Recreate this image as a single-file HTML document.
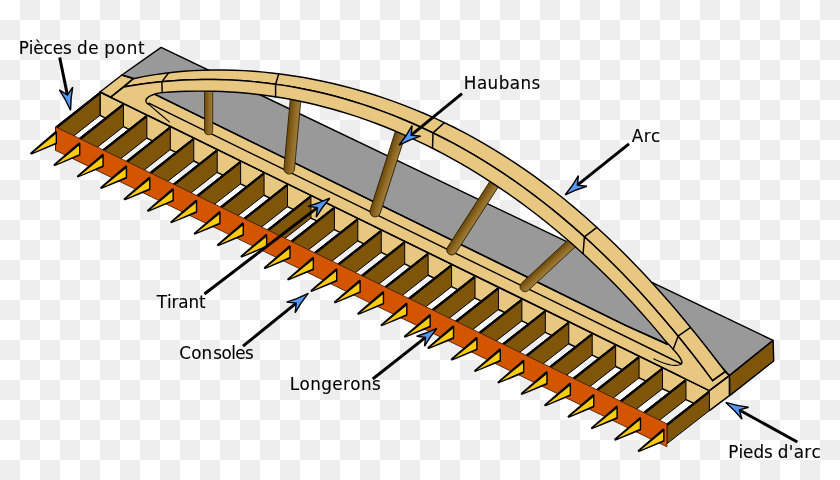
<!DOCTYPE html>
<html lang="fr"><head><meta charset="utf-8"><title>Pont bow-string</title>
<style>
html,body{margin:0;padding:0;}
body{width:840px;height:480px;overflow:hidden;background-color:#fff;
background-image:linear-gradient(45deg,#eee 25%,transparent 25%,transparent 75%,#eee 75%),linear-gradient(45deg,#eee 25%,transparent 25%,transparent 75%,#eee 75%);
background-size:40px 40px;background-position:0 0,20px 20px;}
svg{display:block;position:absolute;left:0;top:0;will-change:transform;}
text{font-family:"DejaVu Sans","Liberation Sans",sans-serif;font-size:16.8px;fill:#000;stroke:#000;stroke-width:0.12px;}
</style></head><body>
<svg width="840" height="480" viewBox="0 0 840 480">
<path d="M161.10,47.40 L773.10,340.40 L729.40,375.60 L700.00,364.86 L150.00,95.98 L121.90,75.00Z" fill="#999999" stroke="#000" stroke-width="1.45" stroke-linejoin="round" />
<path d="M729.40,375.60 L773.10,340.40 L773.70,361.00 L729.70,395.60Z" fill="#7f5509" stroke="#000" stroke-width="1.45" stroke-linejoin="round" />
<path d="M100.00,92.00 L121.90,75.00 L133.30,78.50 L155.00,94.40 L155.00,94.43 L625.00,325.06 L667.50,344.22 L690.00,330.00 L729.40,375.60 L729.40,395.60 L709.40,410.61 L685.96,399.62 L662.52,388.75 L639.08,377.86 L615.65,366.52 L592.21,355.18 L568.77,343.76 L545.33,332.34 L521.89,320.91 L498.45,309.49 L475.02,298.07 L451.58,286.65 L428.14,275.23 L404.70,263.80 L381.26,252.38 L357.82,240.96 L334.38,229.53 L310.95,218.11 L287.51,206.69 L264.07,195.26 L240.63,183.84 L217.19,172.42 L193.75,160.99 L170.32,149.57 L146.88,138.15 L123.44,126.72 L100.00,115.30Z" fill="#e8c881" stroke="#000" stroke-width="1.45" stroke-linejoin="round" />
<path d="M155.00,94.43 L625.00,325.06 L667.50,344.22" fill="none" stroke="#000" stroke-width="1.45" stroke-linecap="round" stroke-linejoin="round"/>
<path d="M148.75,103.21 L680.60,363.49" fill="none" stroke="#000" stroke-width="1.45" stroke-linecap="round" stroke-linejoin="round"/>
<path d="M100.00,92.00 L709.40,390.61 L729.40,375.60" fill="none" stroke="#000" stroke-width="1.45" stroke-linecap="round" stroke-linejoin="round"/>
<defs><linearGradient id="hg" x1="0" y1="0" x2="1" y2="0"><stop offset="0" stop-color="#6a4808"/><stop offset="0.55" stop-color="#8f6a25"/><stop offset="1" stop-color="#a07c38"/></linearGradient></defs>
<g transform="translate(208.60,92.50) rotate(0.00)"><path d="M-4.10,-8 L-4.10,38.20 A4.10,4.10 0 0 0 4.10,38.20 L4.10,-8 Z" fill="url(#hg)" stroke="#2a1c00" stroke-width="0.8"/></g>
<g transform="translate(295.50,100.60) rotate(5.28)"><path d="M-5.30,-8 L-5.30,68.49 A5.30,5.30 0 0 0 5.30,68.49 L5.30,-8 Z" fill="url(#hg)" stroke="#2a1c00" stroke-width="0.8"/></g>
<g transform="translate(400.00,134.20) rotate(17.77)"><path d="M-5.30,-8 L-5.30,81.28 A5.30,5.30 0 0 0 5.30,81.28 L5.30,-8 Z" fill="url(#hg)" stroke="#2a1c00" stroke-width="0.8"/></g>
<g transform="translate(493.50,185.00) rotate(32.74)"><path d="M-5.00,-8 L-5.00,77.28 A5.00,5.00 0 0 0 5.00,77.28 L5.00,-8 Z" fill="url(#hg)" stroke="#2a1c00" stroke-width="0.8"/></g>
<g transform="translate(571.00,244.00) rotate(47.13)"><path d="M-5.00,-8 L-5.00,62.76 A5.00,5.00 0 0 0 5.00,62.76 L5.00,-8 Z" fill="url(#hg)" stroke="#2a1c00" stroke-width="0.8"/></g>
<path d="M133.30,78.68 L143.33,76.64 L153.36,74.90 L163.40,73.43 L173.43,72.24 L183.46,71.31 L193.49,70.62 L203.53,70.18 L213.56,69.96 L223.59,69.97 L233.62,70.20 L243.65,70.64 L253.69,71.29 L263.72,72.14 L273.75,73.20 L283.78,74.46 L293.82,75.92 L303.85,77.57 L313.88,79.43 L323.91,81.48 L333.94,83.74 L343.98,86.19 L354.01,88.85 L364.04,91.72 L374.07,94.80 L384.11,98.10 L394.14,101.61 L404.17,105.34 L414.20,109.30 L424.23,113.50 L434.27,117.92 L444.30,122.60 L454.33,127.51 L464.36,132.69 L474.39,138.12 L484.43,143.81 L494.46,149.77 L504.49,156.01 L514.52,162.53 L524.56,169.34 L534.59,176.43 L544.62,183.83 L554.65,191.52 L564.68,199.53 L574.72,207.84 L584.75,216.47 L594.78,225.42 L604.81,234.69 L614.85,244.28 L624.88,254.20 L634.91,264.46 L644.94,275.04 L654.97,285.96 L665.01,297.21 L675.04,308.80 L685.07,320.71 L695.10,332.96 L705.14,345.53 L715.17,358.44 L725.20,371.66 L712.50,380.65 L702.52,367.28 L692.55,354.30 L682.57,341.71 L672.59,329.49 L662.62,317.65 L652.64,306.16 L642.67,295.04 L632.69,284.26 L622.71,273.83 L612.74,263.73 L602.76,253.97 L592.78,244.52 L582.81,235.40 L572.83,226.59 L562.86,218.08 L552.88,209.88 L542.90,201.97 L532.93,194.34 L522.95,187.01 L512.97,179.95 L503.00,173.17 L493.02,166.66 L483.05,160.41 L473.07,154.42 L463.09,148.69 L453.12,143.21 L443.14,137.98 L433.16,132.99 L423.19,128.24 L413.21,123.73 L403.24,119.46 L393.26,115.41 L383.28,111.59 L373.31,107.99 L363.33,104.62 L353.35,101.47 L343.38,98.53 L333.40,95.81 L323.43,93.30 L313.45,91.01 L303.47,88.92 L293.50,87.05 L283.52,85.38 L273.54,83.92 L263.57,82.66 L253.59,81.61 L243.62,80.77 L233.64,80.14 L223.66,79.71 L213.69,79.48 L203.71,79.47 L193.73,79.66 L183.76,80.06 L173.78,80.67 L163.81,81.50 L153.83,82.54 L143.85,83.80 L133.88,85.27 L123.90,86.97Z" fill="#e8c881" stroke="#000" stroke-width="1.45" stroke-linejoin="round" />
<path d="M110.60,97.19 L123.90,86.97 L133.88,85.27 L143.85,83.80 L153.83,82.54 L163.81,81.50 L173.78,80.67 L183.76,80.06 L193.73,79.66 L203.71,79.47 L213.69,79.48 L223.66,79.71 L233.64,80.14 L243.62,80.77 L253.59,81.61 L263.57,82.66 L273.54,83.92 L283.52,85.38 L293.50,87.05 L303.47,88.92 L313.45,91.01 L323.43,93.30 L333.40,95.81 L343.38,98.53 L353.35,101.47 L363.33,104.62 L373.31,107.99 L383.28,111.59 L393.26,115.41 L403.24,119.46 L413.21,123.73 L423.19,128.24 L433.16,132.99 L443.14,137.98 L453.12,143.21 L463.09,148.69 L473.07,154.42 L483.05,160.41 L493.02,166.66 L503.00,173.17 L512.97,179.95 L522.95,187.01 L532.93,194.34 L542.90,201.97 L552.88,209.88 L562.86,218.08 L572.83,226.59 L582.81,235.40 L592.78,244.52 L602.76,253.97 L612.74,263.73 L622.71,273.83 L632.69,284.26 L642.67,295.04 L652.64,306.16 L662.62,317.65 L672.59,329.49 L682.57,341.71 L692.55,354.30 L702.52,367.28 L712.50,380.65 L709.40,390.61 L680.80,376.59 L680.80,364.20 L680.80,364.20 L681.03,364.06 L681.23,363.91 L681.40,363.75 L681.55,363.59 L681.67,363.41 L681.77,363.23 L681.85,363.04 L681.90,362.83 L681.92,362.62 L681.93,362.39 L681.91,362.14 L681.86,361.88 L681.80,361.60 L681.71,361.31 L681.60,361.00 L681.20,359.96 L680.64,358.85 L679.94,357.68 L679.11,356.45 L678.18,355.17 L677.15,353.86 L676.03,352.51 L674.85,351.14 L673.62,349.76 L672.36,348.37 L671.07,346.98 L669.77,345.60 L668.49,344.24 L667.22,342.91 L666.00,341.62 L666.00,341.62 L657.46,331.36 L648.92,321.40 L640.37,311.72 L631.83,302.33 L623.29,293.21 L614.75,284.36 L606.20,275.76 L597.66,267.42 L589.12,259.32 L580.58,251.46 L572.03,243.83 L563.49,236.43 L554.95,229.25 L546.41,222.28 L537.86,215.53 L529.32,208.99 L520.78,202.65 L512.24,196.51 L503.69,190.57 L495.15,184.82 L486.61,179.27 L478.07,173.90 L469.53,168.71 L460.98,163.70 L452.44,158.88 L443.90,154.23 L435.36,149.76 L426.81,145.47 L418.27,141.34 L409.73,137.39 L401.19,133.60 L392.64,129.98 L384.10,126.53 L375.56,123.25 L367.02,120.13 L358.47,117.17 L349.93,114.38 L341.39,111.75 L332.85,109.28 L324.31,106.97 L315.76,104.82 L307.22,102.83 L298.68,101.00 L290.14,99.32 L281.59,97.81 L273.05,96.45 L264.51,95.24 L255.97,94.20 L247.42,93.30 L238.88,92.56 L230.34,91.97 L221.80,91.53 L213.25,91.25 L204.71,91.11 L196.17,91.12 L187.63,91.27 L179.08,91.57 L170.54,92.02 L162.00,92.60 L162.00,92.60 L160.22,92.84 L158.48,93.15 L156.80,93.52 L155.20,93.96 L153.67,94.45 L152.25,94.98 L150.94,95.56 L149.75,96.17 L148.69,96.82 L147.79,97.49 L147.05,98.18 L146.49,98.88 L146.12,99.59 L145.95,100.30 L146.00,101.00 L146.09,101.35 L146.19,101.68 L146.30,101.99 L146.43,102.28 L146.57,102.55 L146.72,102.80 L146.89,103.04 L147.07,103.26 L147.27,103.46 L147.48,103.65 L147.71,103.83 L147.95,103.99 L148.20,104.14 L148.47,104.27 L148.75,104.40 L148.75,115.89Z" fill="#e8c881" stroke="none"/>
<path d="M110.60,97.19 L123.90,86.97 L123.90,86.97 L133.88,85.27 L143.85,83.80 L153.83,82.54 L163.81,81.50 L173.78,80.67 L183.76,80.06 L193.73,79.66 L203.71,79.47 L213.69,79.48 L223.66,79.71 L233.64,80.14 L243.62,80.77 L253.59,81.61 L263.57,82.66 L273.54,83.92 L283.52,85.38 L293.50,87.05 L303.47,88.92 L313.45,91.01 L323.43,93.30 L333.40,95.81 L343.38,98.53 L353.35,101.47 L363.33,104.62 L373.31,107.99 L383.28,111.59 L393.26,115.41 L403.24,119.46 L413.21,123.73 L423.19,128.24 L433.16,132.99 L443.14,137.98 L453.12,143.21 L463.09,148.69 L473.07,154.42 L483.05,160.41 L493.02,166.66 L503.00,173.17 L512.97,179.95 L522.95,187.01 L532.93,194.34 L542.90,201.97 L552.88,209.88 L562.86,218.08 L572.83,226.59 L582.81,235.40 L592.78,244.52 L602.76,253.97 L612.74,263.73 L622.71,273.83 L632.69,284.26 L642.67,295.04 L652.64,306.16 L662.62,317.65 L672.59,329.49 L682.57,341.71 L692.55,354.30 L702.52,367.28 L712.50,380.65" fill="none" stroke="#000" stroke-width="1.45" stroke-linecap="round" stroke-linejoin="round"/>
<path d="M100.00,92.00 L709.40,390.61 L729.40,375.60" fill="none" stroke="#000" stroke-width="1.45" stroke-linecap="round" stroke-linejoin="round"/>
<path d="M680.80,364.20 L681.03,364.06 L681.23,363.91 L681.40,363.75 L681.55,363.59 L681.67,363.41 L681.77,363.23 L681.85,363.04 L681.90,362.83 L681.92,362.62 L681.93,362.39 L681.91,362.14 L681.86,361.88 L681.80,361.60 L681.71,361.31 L681.60,361.00 L681.20,359.96 L680.64,358.85 L679.94,357.68 L679.11,356.45 L678.18,355.17 L677.15,353.86 L676.03,352.51 L674.85,351.14 L673.62,349.76 L672.36,348.37 L671.07,346.98 L669.77,345.60 L668.49,344.24 L667.22,342.91 L666.00,341.62 L666.00,341.62 L657.46,331.36 L648.92,321.40 L640.37,311.72 L631.83,302.33 L623.29,293.21 L614.75,284.36 L606.20,275.76 L597.66,267.42 L589.12,259.32 L580.58,251.46 L572.03,243.83 L563.49,236.43 L554.95,229.25 L546.41,222.28 L537.86,215.53 L529.32,208.99 L520.78,202.65 L512.24,196.51 L503.69,190.57 L495.15,184.82 L486.61,179.27 L478.07,173.90 L469.53,168.71 L460.98,163.70 L452.44,158.88 L443.90,154.23 L435.36,149.76 L426.81,145.47 L418.27,141.34 L409.73,137.39 L401.19,133.60 L392.64,129.98 L384.10,126.53 L375.56,123.25 L367.02,120.13 L358.47,117.17 L349.93,114.38 L341.39,111.75 L332.85,109.28 L324.31,106.97 L315.76,104.82 L307.22,102.83 L298.68,101.00 L290.14,99.32 L281.59,97.81 L273.05,96.45 L264.51,95.24 L255.97,94.20 L247.42,93.30 L238.88,92.56 L230.34,91.97 L221.80,91.53 L213.25,91.25 L204.71,91.11 L196.17,91.12 L187.63,91.27 L179.08,91.57 L170.54,92.02 L162.00,92.60 L162.00,92.60 L160.22,92.84 L158.48,93.15 L156.80,93.52 L155.20,93.96 L153.67,94.45 L152.25,94.98 L150.94,95.56 L149.75,96.17 L148.69,96.82 L147.79,97.49 L147.05,98.18 L146.49,98.88 L146.12,99.59 L145.95,100.30 L146.00,101.00 L146.09,101.35 L146.19,101.68 L146.30,101.99 L146.43,102.28 L146.57,102.55 L146.72,102.80 L146.89,103.04 L147.07,103.26 L147.27,103.46 L147.48,103.65 L147.71,103.83 L147.95,103.99 L148.20,104.14 L148.47,104.27 L148.75,104.40" fill="none" stroke="#000" stroke-width="1.45" stroke-linecap="round" stroke-linejoin="round"/>
<path d="M110.60,97.19 L133.30,78.50" fill="none" stroke="#000" stroke-width="1.45" stroke-linecap="round" stroke-linejoin="round"/>
<path d="M121.90,75.00 L133.30,78.50" fill="none" stroke="#000" stroke-width="1.45" stroke-linecap="round" stroke-linejoin="round"/>
<path d="M712.50,380.65 L725.20,371.66" fill="none" stroke="#000" stroke-width="1.45" stroke-linecap="round" stroke-linejoin="round"/>
<path d="M725.20,371.66 L729.40,375.60" fill="none" stroke="#000" stroke-width="1.45" stroke-linecap="round" stroke-linejoin="round"/>
<path d="M148.75,104.40 L160.00,114.00 L169.40,121.90" fill="none" stroke="#000" stroke-width="1.1" stroke-linecap="round" stroke-linejoin="round"/>
<path d="M680.80,364.20 L679.77,364.66 L678.61,365.01 L677.32,365.23 L675.91,365.34 L674.38,365.33 L672.73,365.20 L670.98,364.96 L669.13,364.60 L667.18,364.12 L665.14,363.52 L663.01,362.80 L660.81,361.97 L658.52,361.01 L656.17,359.94 L653.75,358.75" fill="none" stroke="#000" stroke-width="1.1" stroke-linecap="round" stroke-linejoin="round"/>
<path d="M168.75,72.77 L161.90,81.68 L162.20,92.59" fill="none" stroke="#000" stroke-width="1.45" stroke-linecap="round" stroke-linejoin="round"/>
<path d="M278.75,73.80 L275.60,84.20 L275.60,96.84" fill="none" stroke="#000" stroke-width="1.45" stroke-linecap="round" stroke-linejoin="round"/>
<path d="M444.40,122.64 L433.00,132.91 L432.50,148.31" fill="none" stroke="#000" stroke-width="1.45" stroke-linecap="round" stroke-linejoin="round"/>
<path d="M596.90,227.35 L584.40,236.83 L583.10,253.76" fill="none" stroke="#000" stroke-width="1.45" stroke-linecap="round" stroke-linejoin="round"/>
<path d="M690.60,327.42 L678.10,336.19 L673.10,349.40" fill="none" stroke="#000" stroke-width="1.45" stroke-linecap="round" stroke-linejoin="round"/>
<path d="M100.00,92.00 L55.60,126.90 L55.60,150.20 L100.00,115.30Z" fill="#7f5509" stroke="#000" stroke-width="1.0" stroke-linejoin="round" />
<path d="M99.60,93.30 L55.90,128.10" fill="none" stroke="#000" stroke-width="2.2" stroke-linecap="butt" stroke-linejoin="round"/>
<path d="M123.44,103.48 L79.11,138.32 L79.11,161.56 L123.44,126.72Z" fill="#7f5509" stroke="#000" stroke-width="1.0" stroke-linejoin="round" />
<path d="M123.04,104.78 L79.41,139.52" fill="none" stroke="#000" stroke-width="2.2" stroke-linecap="butt" stroke-linejoin="round"/>
<path d="M146.88,114.97 L102.62,149.73 L102.62,172.91 L146.88,138.15Z" fill="#7f5509" stroke="#000" stroke-width="1.0" stroke-linejoin="round" />
<path d="M146.48,116.27 L102.92,150.93" fill="none" stroke="#000" stroke-width="2.2" stroke-linecap="butt" stroke-linejoin="round"/>
<path d="M170.32,126.45 L126.13,161.15 L126.13,184.27 L170.32,149.57Z" fill="#7f5509" stroke="#000" stroke-width="1.0" stroke-linejoin="round" />
<path d="M169.92,127.75 L126.43,162.35" fill="none" stroke="#000" stroke-width="2.2" stroke-linecap="butt" stroke-linejoin="round"/>
<path d="M193.75,137.94 L149.65,172.57 L149.65,195.62 L193.75,160.99Z" fill="#7f5509" stroke="#000" stroke-width="1.0" stroke-linejoin="round" />
<path d="M193.35,139.24 L149.95,173.77" fill="none" stroke="#000" stroke-width="2.2" stroke-linecap="butt" stroke-linejoin="round"/>
<path d="M217.19,149.42 L173.16,183.99 L173.16,206.98 L217.19,172.42Z" fill="#7f5509" stroke="#000" stroke-width="1.0" stroke-linejoin="round" />
<path d="M216.79,150.72 L173.46,185.19" fill="none" stroke="#000" stroke-width="2.2" stroke-linecap="butt" stroke-linejoin="round"/>
<path d="M240.63,160.91 L196.67,195.40 L196.67,218.33 L240.63,183.84Z" fill="#7f5509" stroke="#000" stroke-width="1.0" stroke-linejoin="round" />
<path d="M240.23,162.21 L196.97,196.60" fill="none" stroke="#000" stroke-width="2.2" stroke-linecap="butt" stroke-linejoin="round"/>
<path d="M264.07,172.39 L220.18,206.82 L220.18,229.69 L264.07,195.26Z" fill="#7f5509" stroke="#000" stroke-width="1.0" stroke-linejoin="round" />
<path d="M263.67,173.69 L220.48,208.02" fill="none" stroke="#000" stroke-width="2.2" stroke-linecap="butt" stroke-linejoin="round"/>
<path d="M287.51,183.88 L243.69,218.24 L243.69,241.05 L287.51,206.69Z" fill="#7f5509" stroke="#000" stroke-width="1.0" stroke-linejoin="round" />
<path d="M287.11,185.18 L243.99,219.44" fill="none" stroke="#000" stroke-width="2.2" stroke-linecap="butt" stroke-linejoin="round"/>
<path d="M310.95,195.36 L267.20,229.66 L267.20,252.40 L310.95,218.11Z" fill="#7f5509" stroke="#000" stroke-width="1.0" stroke-linejoin="round" />
<path d="M310.55,196.66 L267.50,230.86" fill="none" stroke="#000" stroke-width="2.2" stroke-linecap="butt" stroke-linejoin="round"/>
<path d="M334.38,206.85 L290.72,241.07 L290.72,263.76 L334.38,229.53Z" fill="#7f5509" stroke="#000" stroke-width="1.0" stroke-linejoin="round" />
<path d="M333.98,208.15 L291.02,242.27" fill="none" stroke="#000" stroke-width="2.2" stroke-linecap="butt" stroke-linejoin="round"/>
<path d="M357.82,218.33 L314.23,252.49 L314.23,275.11 L357.82,240.96Z" fill="#7f5509" stroke="#000" stroke-width="1.0" stroke-linejoin="round" />
<path d="M357.42,219.63 L314.53,253.69" fill="none" stroke="#000" stroke-width="2.2" stroke-linecap="butt" stroke-linejoin="round"/>
<path d="M381.26,229.82 L337.74,263.91 L337.74,286.47 L381.26,252.38Z" fill="#7f5509" stroke="#000" stroke-width="1.0" stroke-linejoin="round" />
<path d="M380.86,231.12 L338.04,265.11" fill="none" stroke="#000" stroke-width="2.2" stroke-linecap="butt" stroke-linejoin="round"/>
<path d="M404.70,241.30 L361.25,275.33 L361.25,297.83 L404.70,263.80Z" fill="#7f5509" stroke="#000" stroke-width="1.0" stroke-linejoin="round" />
<path d="M404.30,242.60 L361.55,276.53" fill="none" stroke="#000" stroke-width="2.2" stroke-linecap="butt" stroke-linejoin="round"/>
<path d="M428.14,252.79 L384.76,286.74 L384.76,309.18 L428.14,275.23Z" fill="#7f5509" stroke="#000" stroke-width="1.0" stroke-linejoin="round" />
<path d="M427.74,254.09 L385.06,287.94" fill="none" stroke="#000" stroke-width="2.2" stroke-linecap="butt" stroke-linejoin="round"/>
<path d="M451.58,264.27 L408.27,298.16 L408.27,320.54 L451.58,286.65Z" fill="#7f5509" stroke="#000" stroke-width="1.0" stroke-linejoin="round" />
<path d="M451.18,265.57 L408.57,299.36" fill="none" stroke="#000" stroke-width="2.2" stroke-linecap="butt" stroke-linejoin="round"/>
<path d="M475.02,275.76 L431.78,309.58 L431.78,331.89 L475.02,298.07Z" fill="#7f5509" stroke="#000" stroke-width="1.0" stroke-linejoin="round" />
<path d="M474.62,277.06 L432.08,310.78" fill="none" stroke="#000" stroke-width="2.2" stroke-linecap="butt" stroke-linejoin="round"/>
<path d="M498.45,287.24 L455.30,320.99 L455.30,343.24 L498.45,309.49Z" fill="#7f5509" stroke="#000" stroke-width="1.0" stroke-linejoin="round" />
<path d="M498.05,288.54 L455.60,322.19" fill="none" stroke="#000" stroke-width="2.2" stroke-linecap="butt" stroke-linejoin="round"/>
<path d="M521.89,298.73 L478.81,332.41 L478.81,354.60 L521.89,320.91Z" fill="#7f5509" stroke="#000" stroke-width="1.0" stroke-linejoin="round" />
<path d="M521.49,300.03 L479.11,333.61" fill="none" stroke="#000" stroke-width="2.2" stroke-linecap="butt" stroke-linejoin="round"/>
<path d="M545.33,310.21 L502.32,343.83 L502.32,365.95 L545.33,332.34Z" fill="#7f5509" stroke="#000" stroke-width="1.0" stroke-linejoin="round" />
<path d="M544.93,311.51 L502.62,345.03" fill="none" stroke="#000" stroke-width="2.2" stroke-linecap="butt" stroke-linejoin="round"/>
<path d="M568.77,321.70 L525.83,355.25 L525.83,377.31 L568.77,343.76Z" fill="#7f5509" stroke="#000" stroke-width="1.0" stroke-linejoin="round" />
<path d="M568.37,323.00 L526.13,356.45" fill="none" stroke="#000" stroke-width="2.2" stroke-linecap="butt" stroke-linejoin="round"/>
<path d="M592.21,333.18 L549.34,366.66 L549.34,388.66 L592.21,355.18Z" fill="#7f5509" stroke="#000" stroke-width="1.0" stroke-linejoin="round" />
<path d="M591.81,334.48 L549.64,367.86" fill="none" stroke="#000" stroke-width="2.2" stroke-linecap="butt" stroke-linejoin="round"/>
<path d="M615.65,344.67 L572.85,378.08 L572.85,399.93 L615.65,366.52Z" fill="#7f5509" stroke="#000" stroke-width="1.0" stroke-linejoin="round" />
<path d="M615.25,345.97 L573.15,379.28" fill="none" stroke="#000" stroke-width="2.2" stroke-linecap="butt" stroke-linejoin="round"/>
<path d="M639.08,356.15 L596.37,389.50 L596.37,411.20 L639.08,377.86Z" fill="#7f5509" stroke="#000" stroke-width="1.0" stroke-linejoin="round" />
<path d="M638.68,357.45 L596.67,390.70" fill="none" stroke="#000" stroke-width="2.2" stroke-linecap="butt" stroke-linejoin="round"/>
<path d="M662.52,367.64 L619.88,400.92 L619.88,422.03 L662.52,388.75Z" fill="#7f5509" stroke="#000" stroke-width="1.0" stroke-linejoin="round" />
<path d="M662.12,368.94 L620.18,402.12" fill="none" stroke="#000" stroke-width="2.2" stroke-linecap="butt" stroke-linejoin="round"/>
<path d="M685.96,379.12 L643.39,412.33 L643.39,432.83 L685.96,399.62Z" fill="#7f5509" stroke="#000" stroke-width="1.0" stroke-linejoin="round" />
<path d="M685.56,380.42 L643.69,413.53" fill="none" stroke="#000" stroke-width="2.2" stroke-linecap="butt" stroke-linejoin="round"/>
<path d="M709.40,390.61 L666.90,423.75 L666.90,443.75 L709.40,410.61Z" fill="#7f5509" stroke="#000" stroke-width="1.0" stroke-linejoin="round" />
<path d="M709.00,391.91 L667.20,424.95" fill="none" stroke="#000" stroke-width="2.2" stroke-linecap="butt" stroke-linejoin="round"/>
<path d="M55.60,126.90 L666.90,423.75 L666.90,446.75 L55.60,150.40Z" fill="#d45500" stroke="#3a1500" stroke-width="0.8" stroke-linejoin="round" />
<path d="M55.90,132.20 L55.90,143.30 L31.30,153.40Z" fill="#000" stroke="#000" stroke-width="2.3" stroke-linejoin="round" />
<path d="M55.60,134.30 L55.60,142.70 L33.30,152.50Z" fill="#ffcc0d" stroke="none" stroke-width="0" stroke-linejoin="round" />
<path d="M79.27,143.64 L79.27,154.74 L54.67,164.84Z" fill="#000" stroke="#000" stroke-width="2.3" stroke-linejoin="round" />
<path d="M78.97,145.74 L78.97,154.14 L56.67,163.94Z" fill="#ffcc0d" stroke="none" stroke-width="0" stroke-linejoin="round" />
<path d="M102.63,155.08 L102.63,166.18 L78.03,176.28Z" fill="#000" stroke="#000" stroke-width="2.3" stroke-linejoin="round" />
<path d="M102.33,157.18 L102.33,165.58 L80.03,175.38Z" fill="#ffcc0d" stroke="none" stroke-width="0" stroke-linejoin="round" />
<path d="M126.00,166.53 L126.00,177.63 L101.40,187.73Z" fill="#000" stroke="#000" stroke-width="2.3" stroke-linejoin="round" />
<path d="M125.70,168.63 L125.70,177.03 L103.40,186.83Z" fill="#ffcc0d" stroke="none" stroke-width="0" stroke-linejoin="round" />
<path d="M149.36,177.97 L149.36,189.07 L124.76,199.17Z" fill="#000" stroke="#000" stroke-width="2.3" stroke-linejoin="round" />
<path d="M149.06,180.07 L149.06,188.47 L126.76,198.27Z" fill="#ffcc0d" stroke="none" stroke-width="0" stroke-linejoin="round" />
<path d="M172.73,189.41 L172.73,200.51 L148.13,210.61Z" fill="#000" stroke="#000" stroke-width="2.3" stroke-linejoin="round" />
<path d="M172.43,191.51 L172.43,199.91 L150.13,209.71Z" fill="#ffcc0d" stroke="none" stroke-width="0" stroke-linejoin="round" />
<path d="M196.09,200.85 L196.09,211.95 L171.49,222.05Z" fill="#000" stroke="#000" stroke-width="2.3" stroke-linejoin="round" />
<path d="M195.79,202.95 L195.79,211.35 L173.49,221.15Z" fill="#ffcc0d" stroke="none" stroke-width="0" stroke-linejoin="round" />
<path d="M219.46,212.30 L219.46,223.40 L194.86,233.50Z" fill="#000" stroke="#000" stroke-width="2.3" stroke-linejoin="round" />
<path d="M219.16,214.40 L219.16,222.80 L196.86,232.60Z" fill="#ffcc0d" stroke="none" stroke-width="0" stroke-linejoin="round" />
<path d="M242.82,223.74 L242.82,234.84 L218.22,244.94Z" fill="#000" stroke="#000" stroke-width="2.3" stroke-linejoin="round" />
<path d="M242.52,225.84 L242.52,234.24 L220.22,244.04Z" fill="#ffcc0d" stroke="none" stroke-width="0" stroke-linejoin="round" />
<path d="M266.19,235.18 L266.19,246.28 L241.59,256.38Z" fill="#000" stroke="#000" stroke-width="2.3" stroke-linejoin="round" />
<path d="M265.89,237.28 L265.89,245.68 L243.59,255.48Z" fill="#ffcc0d" stroke="none" stroke-width="0" stroke-linejoin="round" />
<path d="M289.55,246.62 L289.55,257.72 L264.95,267.82Z" fill="#000" stroke="#000" stroke-width="2.3" stroke-linejoin="round" />
<path d="M289.25,248.72 L289.25,257.12 L266.95,266.92Z" fill="#ffcc0d" stroke="none" stroke-width="0" stroke-linejoin="round" />
<path d="M312.92,258.07 L312.92,269.17 L288.32,279.27Z" fill="#000" stroke="#000" stroke-width="2.3" stroke-linejoin="round" />
<path d="M312.62,260.17 L312.62,268.57 L290.32,278.37Z" fill="#ffcc0d" stroke="none" stroke-width="0" stroke-linejoin="round" />
<path d="M336.28,269.51 L336.28,280.61 L311.68,290.71Z" fill="#000" stroke="#000" stroke-width="2.3" stroke-linejoin="round" />
<path d="M335.98,271.61 L335.98,280.01 L313.68,289.81Z" fill="#ffcc0d" stroke="none" stroke-width="0" stroke-linejoin="round" />
<path d="M359.65,280.95 L359.65,292.05 L335.05,302.15Z" fill="#000" stroke="#000" stroke-width="2.3" stroke-linejoin="round" />
<path d="M359.35,283.05 L359.35,291.45 L337.05,301.25Z" fill="#ffcc0d" stroke="none" stroke-width="0" stroke-linejoin="round" />
<path d="M383.02,292.39 L383.02,303.49 L358.42,313.59Z" fill="#000" stroke="#000" stroke-width="2.3" stroke-linejoin="round" />
<path d="M382.72,294.49 L382.72,302.89 L360.42,312.69Z" fill="#ffcc0d" stroke="none" stroke-width="0" stroke-linejoin="round" />
<path d="M406.38,303.83 L406.38,314.93 L381.78,325.03Z" fill="#000" stroke="#000" stroke-width="2.3" stroke-linejoin="round" />
<path d="M406.08,305.93 L406.08,314.33 L383.78,324.13Z" fill="#ffcc0d" stroke="none" stroke-width="0" stroke-linejoin="round" />
<path d="M429.75,315.28 L429.75,326.38 L405.15,336.48Z" fill="#000" stroke="#000" stroke-width="2.3" stroke-linejoin="round" />
<path d="M429.45,317.38 L429.45,325.78 L407.15,335.58Z" fill="#ffcc0d" stroke="none" stroke-width="0" stroke-linejoin="round" />
<path d="M453.11,326.72 L453.11,337.82 L428.51,347.92Z" fill="#000" stroke="#000" stroke-width="2.3" stroke-linejoin="round" />
<path d="M452.81,328.82 L452.81,337.22 L430.51,347.02Z" fill="#ffcc0d" stroke="none" stroke-width="0" stroke-linejoin="round" />
<path d="M476.48,338.16 L476.48,349.26 L451.88,359.36Z" fill="#000" stroke="#000" stroke-width="2.3" stroke-linejoin="round" />
<path d="M476.18,340.26 L476.18,348.66 L453.88,358.46Z" fill="#ffcc0d" stroke="none" stroke-width="0" stroke-linejoin="round" />
<path d="M499.84,349.60 L499.84,360.70 L475.24,370.80Z" fill="#000" stroke="#000" stroke-width="2.3" stroke-linejoin="round" />
<path d="M499.54,351.70 L499.54,360.10 L477.24,369.90Z" fill="#ffcc0d" stroke="none" stroke-width="0" stroke-linejoin="round" />
<path d="M523.21,361.05 L523.21,372.15 L498.61,382.25Z" fill="#000" stroke="#000" stroke-width="2.3" stroke-linejoin="round" />
<path d="M522.91,363.15 L522.91,371.55 L500.61,381.35Z" fill="#ffcc0d" stroke="none" stroke-width="0" stroke-linejoin="round" />
<path d="M546.57,372.49 L546.57,383.59 L521.97,393.69Z" fill="#000" stroke="#000" stroke-width="2.3" stroke-linejoin="round" />
<path d="M546.27,374.59 L546.27,382.99 L523.97,392.79Z" fill="#ffcc0d" stroke="none" stroke-width="0" stroke-linejoin="round" />
<path d="M569.94,383.93 L569.94,395.03 L545.34,405.13Z" fill="#000" stroke="#000" stroke-width="2.3" stroke-linejoin="round" />
<path d="M569.64,386.03 L569.64,394.43 L547.34,404.23Z" fill="#ffcc0d" stroke="none" stroke-width="0" stroke-linejoin="round" />
<path d="M593.30,395.37 L593.30,406.47 L568.70,416.57Z" fill="#000" stroke="#000" stroke-width="2.3" stroke-linejoin="round" />
<path d="M593.00,397.47 L593.00,405.87 L570.70,415.67Z" fill="#ffcc0d" stroke="none" stroke-width="0" stroke-linejoin="round" />
<path d="M616.67,406.82 L616.67,417.92 L592.07,428.02Z" fill="#000" stroke="#000" stroke-width="2.3" stroke-linejoin="round" />
<path d="M616.37,408.92 L616.37,417.32 L594.07,427.12Z" fill="#ffcc0d" stroke="none" stroke-width="0" stroke-linejoin="round" />
<path d="M640.03,418.26 L640.03,429.36 L615.43,439.46Z" fill="#000" stroke="#000" stroke-width="2.3" stroke-linejoin="round" />
<path d="M639.73,420.36 L639.73,428.76 L617.43,438.56Z" fill="#ffcc0d" stroke="none" stroke-width="0" stroke-linejoin="round" />
<path d="M663.40,429.70 L663.40,440.80 L638.80,450.90Z" fill="#000" stroke="#000" stroke-width="2.3" stroke-linejoin="round" />
<path d="M663.10,431.80 L663.10,440.20 L640.80,450.00Z" fill="#ffcc0d" stroke="none" stroke-width="0" stroke-linejoin="round" />
<path d="M59.70,57.50 L67.42,95.12" stroke="#000" stroke-width="3.0" fill="none"/>
<path d="M70.54,110.31 Q65.54,98.81 59.39,89.83 L67.42,95.12 L72.72,87.09 Q70.60,97.77 70.54,110.31 Z" fill="#5599ff" stroke="#000" stroke-width="1.4" stroke-linejoin="miter"/>
<path d="M462.00,93.70 L411.14,135.21" stroke="#000" stroke-width="3.0" fill="none"/>
<path d="M399.13,145.01 Q407.00,135.25 412.11,125.64 L411.14,135.21 L420.71,136.18 Q410.27,139.26 399.13,145.01 Z" fill="#5599ff" stroke="#000" stroke-width="1.4" stroke-linejoin="miter"/>
<path d="M629.00,143.90 L577.35,185.14" stroke="#000" stroke-width="3.0" fill="none"/>
<path d="M565.23,194.81 Q573.21,185.14 578.42,175.58 L577.35,185.14 L586.90,186.21 Q576.43,189.18 565.23,194.81 Z" fill="#5599ff" stroke="#000" stroke-width="1.4" stroke-linejoin="miter"/>
<path d="M204.40,294.00 L317.45,207.59" stroke="#000" stroke-width="3.0" fill="none"/>
<path d="M329.76,198.18 Q321.59,207.68 316.17,217.13 L317.45,207.59 L307.91,206.32 Q318.45,203.58 329.76,198.18 Z" fill="#5599ff" stroke="#000" stroke-width="1.4" stroke-linejoin="miter"/>
<path d="M243.00,346.20 L296.22,303.14" stroke="#000" stroke-width="3.0" fill="none"/>
<path d="M308.27,293.39 Q300.36,303.11 295.21,312.70 L296.22,303.14 L286.65,302.13 Q297.11,299.09 308.27,293.39 Z" fill="#5599ff" stroke="#000" stroke-width="1.4" stroke-linejoin="miter"/>
<path d="M372.70,379.00 L425.54,337.34" stroke="#000" stroke-width="3.0" fill="none"/>
<path d="M436.76,328.49 Q429.37,337.41 424.55,346.27 L425.54,337.34 L416.63,336.21 Q426.36,333.59 436.76,328.49 Z" fill="#5599ff" stroke="#000" stroke-width="1.4" stroke-linejoin="miter"/>
<path d="M797.30,442.00 L739.33,409.95" stroke="#000" stroke-width="3.0" fill="none"/>
<path d="M725.76,402.45 Q737.75,406.12 748.57,407.28 L739.33,409.95 L741.99,419.19 Q735.25,410.64 725.76,402.45 Z" fill="#5599ff" stroke="#000" stroke-width="1.4" stroke-linejoin="miter"/>
<text y="54.4" x="18.75 28.78 33.35 43.59 52.73 62.97 71.62 77.07 88.36 99.32 104.27 115.66 126.65 138.01">Pièces de pont</text>
<text y="89.2" x="463.85 476.89 487.59 498.64 509.71 520.41 531.47">Haubans</text>
<text y="142.3" x="631.87 643.73 651.01">Arc</text>
<text y="307.8" x="156.75 166.93 171.51 178.34 188.55 199.11">Tirant</text>
<text y="359.4" x="179.36 191.19 201.58 213.29 221.48 231.19 235.30 245.07">Consoles</text>
<text y="389.9" x="289.85 299.60 310.26 321.30 332.35 343.07 350.37 361.03 372.07">Longerons</text>
<text y="458.4" x="728.25 738.39 743.06 753.40 764.07 772.82 777.77 788.75 793.68 804.29 811.51">Pieds d'arc</text>
</svg>
</body></html>
